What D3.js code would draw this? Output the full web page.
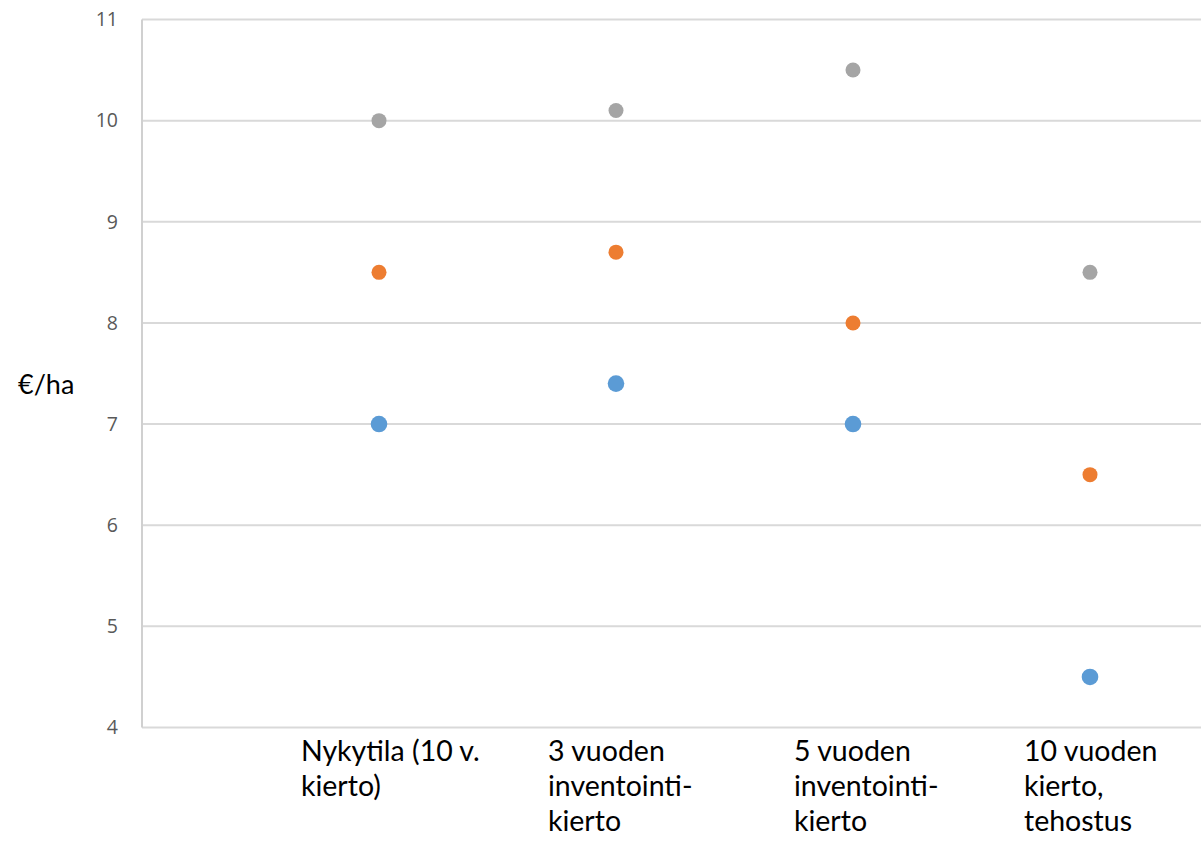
<!DOCTYPE html>
<html><head><meta charset="utf-8">
<script src="https://cdn.jsdelivr.net/npm/d3@7"></script>
<style>html,body{margin:0;padding:0;background:#fff;}svg{display:block;}</style>
</head><body>
<svg id="chart" width="1201" height="844"></svg>
<script>
const categories = [
  ["Nykytila (10 v.", "kierto)"],
  ["3 vuoden", "inventointi-", "kierto"],
  ["5 vuoden", "inventointi-", "kierto"],
  ["10 vuoden", "kierto,", "tehostus"]
];
const xValues = [1, 2, 3, 4];
const grayValues = [10, 10.1, 10.5, 8.5];
const orangeValues = [8.5, 8.7, 8.0, 6.5];
const blueValues = [7, 7.4, 7, 4.5];
const yTicks = [4, 5, 6, 7, 8, 9, 10, 11];
const yLabel = "€/ha";

const svg = d3.select("#chart");
const x = d3.scaleLinear().domain([0, 1]).range([142, 379]);
const y = d3.scaleLinear().domain([4, 11]).range([727.5, 19.5]);

// gridlines
svg.append("g").selectAll("line").data(yTicks).join("line")
  .attr("x1", 142).attr("x2", 1201)
  .attr("y1", d => y(d)).attr("y2", d => y(d))
  .attr("stroke", "#d9d9d9").attr("stroke-width", 2);
// y axis line
svg.append("line").attr("x1", 142).attr("x2", 142).attr("y1", y(11)).attr("y2", y(4))
  .attr("stroke", "#d0d0d0").attr("stroke-width", 2);

// tick labels
svg.append("g").selectAll("text").data(yTicks).join("text")
  .attr("x", 118).attr("y", d => y(d)).attr("dy", "0.35em")
  .attr("text-anchor", "end")
  .attr("font-family", "'Open Sans', sans-serif").attr("font-size", 19.5)
  .attr("fill", "#595959").text(d => d);

// y label
svg.append("text").attr("x", 18).attr("y", 385).attr("dy", "0.35em")
  .attr("font-family", "Lato, 'Open Sans', sans-serif").attr("font-size", 27)
  .attr("fill", "#000").text(yLabel);

// series
const series = [
  {vals: grayValues, color: "#A5A5A5", r: 7.5},
  {vals: orangeValues, color: "#ED7D31", r: 7.5},
  {vals: blueValues, color: "#5B9BD5", r: 8.3}
];
series.forEach(s => {
  svg.append("g").selectAll("circle").data(s.vals).join("circle")
    .attr("cx", (d, i) => x(xValues[i])).attr("cy", d => y(d))
    .attr("r", s.r).attr("fill", s.color);
});

// category labels
const labelOffsets = [-78, -68, -59, -66];
categories.forEach((lines, i) => {
  const t = svg.append("text")
    .attr("x", x(xValues[i]) + labelOffsets[i]).attr("y", 760)
    .attr("font-family", "Lato, 'Open Sans', sans-serif").attr("font-size", 28.5)
    .attr("fill", "#000");
  lines.forEach((ln, j) => {
    t.append("tspan").attr("x", x(xValues[i]) + labelOffsets[i]).attr("y", 761 + j * 35).text(ln);
  });
});
</script>
</body></html>
